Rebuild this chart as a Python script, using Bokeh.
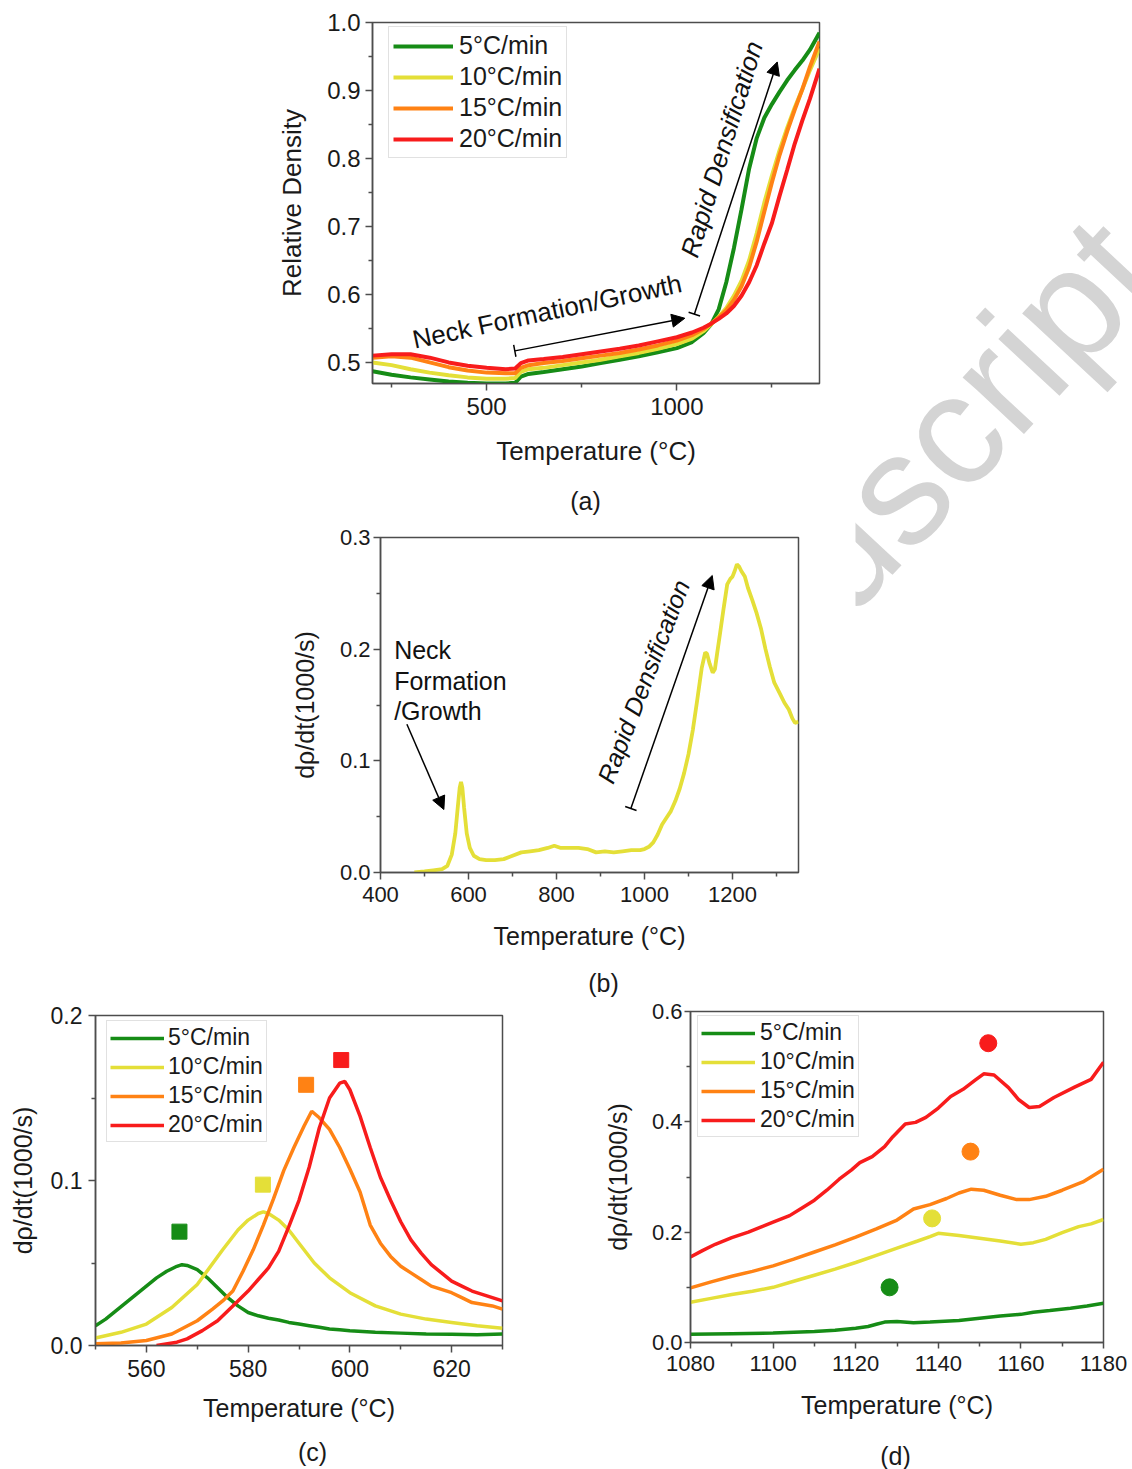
from bokeh.plotting import figure
from bokeh.models import (Range1d, FixedTicker, NumeralTickFormatter, Legend, LegendItem,
                          Arrow, NormalHead, TeeHead, Spacer)
from bokeh.layouts import row, column
from bokeh.core.properties import value
from bokeh.embed import file_html
from bokeh.resources import INLINE

FONT = "Liberation Sans"
AX = "#4d4d4d"

rates = ["5°C/min", "10°C/min", "15°C/min", "20°C/min"]
colors = ["#168c16", "#e4df38", "#ff8214", "#f81c1c"]

# ---------------- (a) relative density ----------------
temp_a = [200, 250, 300, 350, 400, 450, 500, 550, 575, 590, 610, 650, 700, 750, 800, 850,
          900, 950, 1000, 1040, 1070, 1090, 1110, 1130, 1150, 1170, 1190, 1210, 1230, 1250,
          1270, 1290, 1310, 1330, 1350, 1375]
dens_5 = [0.487, 0.482, 0.478, 0.475, 0.472, 0.470, 0.469, 0.469, 0.470, 0.479, 0.483, 0.486,
          0.490, 0.494, 0.499, 0.504, 0.509, 0.515, 0.521, 0.530, 0.543, 0.556, 0.578, 0.618,
          0.668, 0.725, 0.785, 0.830, 0.860, 0.880, 0.898, 0.915, 0.930, 0.944, 0.960, 0.985]
dens_10 = [0.500, 0.496, 0.490, 0.485, 0.481, 0.478, 0.476, 0.476, 0.477, 0.486, 0.490, 0.492,
           0.496, 0.500, 0.504, 0.509, 0.514, 0.520, 0.527, 0.535, 0.546, 0.556, 0.567, 0.580,
           0.598, 0.620, 0.650, 0.690, 0.735, 0.775, 0.812, 0.845, 0.875, 0.902, 0.930, 0.962]
dens_15 = [0.507, 0.509, 0.507, 0.500, 0.493, 0.488, 0.485, 0.484, 0.484, 0.492, 0.496, 0.499,
           0.502, 0.506, 0.510, 0.514, 0.519, 0.525, 0.532, 0.540, 0.549, 0.557, 0.566, 0.577,
           0.592, 0.612, 0.640, 0.678, 0.722, 0.765, 0.805, 0.840, 0.872, 0.902, 0.935, 0.972]
dens_20 = [0.510, 0.512, 0.512, 0.507, 0.500, 0.495, 0.492, 0.490, 0.491, 0.499, 0.503, 0.505,
           0.508, 0.512, 0.516, 0.520, 0.525, 0.531, 0.537, 0.544, 0.551, 0.557, 0.564, 0.572,
           0.583, 0.598, 0.618, 0.643, 0.675, 0.705, 0.745, 0.783, 0.822, 0.856, 0.888, 0.932]

# ---------------- (b) densification rate, 10 C/min ----------------
temp_b = [477, 500, 520, 540, 552, 562, 570, 576, 580, 583, 586, 590, 596, 603, 612, 625, 640,
          660, 680, 700, 720, 740, 760, 780, 795, 810, 830, 850, 870, 890, 910, 930, 950, 970,
          990, 1000, 1010, 1020, 1030, 1040, 1050, 1060, 1070, 1080, 1090, 1100, 1110, 1120,
          1130, 1138, 1142, 1148, 1155, 1160, 1165, 1172, 1180, 1188, 1195, 1200, 1205, 1210,
          1215, 1220, 1228, 1235, 1245, 1255, 1265, 1275, 1285, 1295, 1308, 1318, 1328, 1336,
          1342, 1350]
rate_b = [0.000, 0.001, 0.002, 0.003, 0.006, 0.016, 0.035, 0.060, 0.076, 0.081, 0.076, 0.058,
          0.035, 0.022, 0.015, 0.012, 0.011, 0.011, 0.012, 0.015, 0.018, 0.019, 0.020, 0.022,
          0.024, 0.022, 0.022, 0.022, 0.021, 0.018, 0.019, 0.018, 0.019, 0.020, 0.020, 0.021,
          0.023, 0.027, 0.034, 0.043, 0.049, 0.055, 0.064, 0.075, 0.089, 0.106, 0.128, 0.155,
          0.183, 0.197, 0.196, 0.187, 0.179, 0.182, 0.196, 0.215, 0.237, 0.258, 0.263, 0.265,
          0.270, 0.276, 0.274, 0.270, 0.265, 0.255, 0.244, 0.232, 0.218, 0.200, 0.184, 0.170,
          0.160, 0.152, 0.146, 0.138, 0.134, 0.135]

# ---------------- (c) first peak ----------------
temp_c5 = [550, 552, 554, 556, 558, 560, 562, 564, 566, 567, 568, 570, 572, 574, 576, 578, 580,
           582, 584, 586, 588, 590, 592, 594, 596, 598, 600, 605, 610, 615, 620, 625, 630]
rate_c5 = [0.012, 0.016, 0.021, 0.026, 0.031, 0.036, 0.041, 0.045, 0.048, 0.049, 0.0485, 0.046,
           0.041, 0.035, 0.029, 0.024, 0.020, 0.018, 0.0165, 0.0155, 0.014, 0.013, 0.012,
           0.011, 0.010, 0.0095, 0.009, 0.008, 0.0075, 0.007, 0.0068, 0.0065, 0.007]
temp_c10 = [550, 555, 560, 565, 570, 575, 578, 580, 582, 583, 584, 586, 588, 590, 593, 596,
            600, 605, 610, 615, 620, 625, 630]
rate_c10 = [0.0045, 0.008, 0.013, 0.023, 0.037, 0.058, 0.070, 0.076, 0.080, 0.081, 0.080, 0.076,
            0.070, 0.062, 0.050, 0.041, 0.032, 0.024, 0.019, 0.016, 0.014, 0.012, 0.0105]
temp_c15 = [550, 555, 560, 565, 570, 573, 575, 577, 579, 581, 583, 585, 587, 589, 591, 592.5,
            594, 596, 598, 600, 602, 604, 606, 608, 610, 612, 614, 616, 618, 620, 622, 624,
            626, 628, 630]
rate_c15 = [0.001, 0.0015, 0.003, 0.007, 0.015, 0.022, 0.027, 0.033, 0.045, 0.058, 0.073,
            0.089, 0.106, 0.120, 0.133, 0.142, 0.138, 0.131, 0.120, 0.107, 0.093, 0.073, 0.062,
            0.054, 0.048, 0.044, 0.040, 0.036, 0.034, 0.032, 0.029, 0.026, 0.025, 0.024, 0.022]
temp_c20 = [562, 566, 568, 571, 574, 577, 580, 582, 584, 586, 588, 590, 592, 594, 596, 598, 599,
            600, 602, 604, 606, 608, 610, 612, 614, 616, 618, 620, 622, 624, 626, 628, 630]
rate_c20 = [0.0, 0.002, 0.004, 0.009, 0.015, 0.024, 0.033, 0.040, 0.047, 0.057, 0.072, 0.088,
            0.108, 0.132, 0.150, 0.159, 0.160, 0.155, 0.139, 0.120, 0.102, 0.088, 0.075, 0.064,
            0.056, 0.049, 0.044, 0.039, 0.036, 0.033, 0.031, 0.029, 0.027]
peak_c_temp = [566.5, 582.9, 591.4, 598.3]
peak_c_rate = [0.069, 0.0975, 0.158, 0.173]

# ---------------- (d) second peak ----------------
temp_d5 = [1080, 1090, 1100, 1110, 1115, 1120, 1123, 1125, 1127, 1130, 1134, 1138, 1145, 1150,
           1155, 1160, 1163, 1167, 1172, 1176, 1180]
rate_d5 = [0.015, 0.016, 0.017, 0.020, 0.022, 0.026, 0.029, 0.033, 0.037, 0.038, 0.036, 0.037,
           0.040, 0.044, 0.048, 0.051, 0.055, 0.058, 0.062, 0.066, 0.071]
temp_d10 = [1080, 1085, 1090, 1095, 1100, 1105, 1110, 1115, 1120, 1125, 1130, 1135, 1138, 1140,
            1145, 1150, 1155, 1160, 1163, 1166, 1170, 1174, 1177, 1180]
rate_d10 = [0.073, 0.080, 0.087, 0.093, 0.100, 0.111, 0.122, 0.133, 0.145, 0.158, 0.171, 0.184,
            0.192, 0.198, 0.194, 0.189, 0.184, 0.178, 0.181, 0.187, 0.199, 0.210, 0.215, 0.223]
temp_d15 = [1080, 1085, 1090, 1095, 1100, 1105, 1110, 1115, 1120, 1125, 1130, 1134, 1138, 1142,
            1145, 1148, 1151, 1155, 1159, 1162, 1166, 1170, 1175, 1180]
rate_d15 = [0.099, 0.110, 0.120, 0.129, 0.139, 0.151, 0.164, 0.177, 0.191, 0.206, 0.222, 0.242,
            0.250, 0.261, 0.271, 0.278, 0.276, 0.267, 0.259, 0.259, 0.265, 0.276, 0.291, 0.314]
temp_d20 = [1080, 1083, 1086, 1090, 1094, 1097, 1100, 1104, 1107, 1110, 1113, 1116, 1119, 1121,
            1124, 1127, 1129, 1132, 1134.5, 1137, 1140, 1143, 1146, 1149, 1151, 1153.5, 1157,
            1159.5, 1162, 1164.5, 1168, 1173, 1177, 1180]
rate_d20 = [0.155, 0.167, 0.178, 0.190, 0.200, 0.209, 0.218, 0.230, 0.244, 0.258, 0.276, 0.296,
            0.313, 0.326, 0.337, 0.355, 0.373, 0.396, 0.399, 0.408, 0.425, 0.446, 0.459, 0.476,
            0.487, 0.485, 0.462, 0.440, 0.426, 0.428, 0.444, 0.463, 0.477, 0.508]
peak_d_temp = [1128.2, 1138.5, 1147.8, 1152.1]
peak_d_rate = [0.100, 0.225, 0.346, 0.5425]

captions = ["(a)", "(b)", "(c)", "(d)"]


def make_fig(width, height, xr, yr, borders):
    l, r, t, b = borders
    p = figure(width=width, height=height, x_range=Range1d(*xr), y_range=Range1d(*yr),
               toolbar_location=None, output_backend="svg",
               min_border_left=l, min_border_right=r, min_border_top=t, min_border_bottom=b)
    p.background_fill_color = "white"
    p.border_fill_color = "white"
    p.outline_line_color = AX
    p.outline_line_width = 1.5
    p.outline_line_alpha = 1
    p.xgrid.grid_line_color = None
    p.ygrid.grid_line_color = None
    return p


def blank_fig(width, height, x0, y_top):
    # plain canvas whose data units are page pixels (y grows downward)
    p = figure(width=width, height=height, x_range=Range1d(x0, x0 + width),
               y_range=Range1d(y_top + height, y_top), toolbar_location=None,
               output_backend="svg", x_axis_type=None, y_axis_type=None,
               min_border=0, min_border_left=0, min_border_right=0, min_border_top=0,
               min_border_bottom=0)
    p.outline_line_color = None
    p.xgrid.grid_line_color = None
    p.ygrid.grid_line_color = None
    p.background_fill_color = "white"
    p.border_fill_color = "white"
    return p


def style_axes(p, xt, yt, xlabel, ylabel, tick_px, label_px, xts, yts, xls, yls, tick_out=7):
    p.xaxis.ticker = FixedTicker(ticks=xt[0], minor_ticks=xt[1])
    p.yaxis.ticker = FixedTicker(ticks=yt[0], minor_ticks=yt[1])
    p.yaxis.formatter = NumeralTickFormatter(format="0.0")
    p.xaxis.axis_label = xlabel
    p.yaxis.axis_label = ylabel
    for ax, ts, ls in ((p.xaxis[0], xts, xls), (p.yaxis[0], yts, yls)):
        ax.axis_line_color = AX
        ax.axis_line_width = 1.5
        ax.major_tick_line_color = AX
        ax.major_tick_line_width = 1.5
        ax.minor_tick_line_color = AX
        ax.minor_tick_line_width = 1.5
        ax.major_tick_in = 0
        ax.major_tick_out = tick_out
        ax.minor_tick_in = 0
        ax.minor_tick_out = 4
        ax.major_label_text_font = FONT
        ax.major_label_text_font_size = f"{tick_px}px"
        ax.major_label_text_color = "#1a1a1a"
        ax.major_label_standoff = ts
        ax.axis_label_text_font = FONT
        ax.axis_label_text_font_size = f"{label_px}px"
        ax.axis_label_text_font_style = "normal"
        ax.axis_label_text_color = "#1a1a1a"
        ax.axis_label_standoff = ls


def caption(p, xs, ys, texts):
    p.text(x=xs, y=ys, text=texts, text_font=value(FONT), text_font_size=value("25px"),
           text_color="#1a1a1a", text_align="center", text_baseline="middle")


def add_legend(p, renderers, font_px, glyph_w, standoff, vx, vy, padding, spacing):
    items = [LegendItem(label=lab, renderers=[r]) for lab, r in zip(rates, renderers)]
    leg = Legend(items=items, location=(vx, vy), label_text_font=FONT,
                 label_text_font_size=f"{font_px}px", label_text_color="#1a1a1a",
                 glyph_width=glyph_w, glyph_height=20, label_height=20, label_standoff=standoff,
                 spacing=spacing, padding=padding, margin=0, border_line_color="#c4c4c4",
                 border_line_width=1.5, background_fill_color="white", background_fill_alpha=1)
    p.add_layout(leg)


def text(p, x, y, s, size, angle=0, italic=False):
    p.text(x=[x], y=[y], text=[s], angle=angle, angle_units="deg",
           text_font=value(FONT), text_font_size=value(f"{size}px"),
           text_font_style="italic" if italic else "normal", text_color="#111111",
           text_align="left", text_baseline="alphabetic")


def arrow(p, x0, y0, x1, y1, tee=True):
    start = TeeHead(size=12, line_width=1.5, line_color="black") if tee else None
    p.add_layout(Arrow(start=start, end=NormalHead(size=13, fill_color="black",
                                                     line_color="black", line_width=1),
                       x_start=x0, y_start=y0, x_end=x1, y_end=y1,
                       line_width=1.5, line_color="black"))


# ---- panel (a): frame 372..819 x 22..383
pa = make_fig(567, 480, (200, 1375), (0.469, 1.0), (110, 10, 22, 97))
ra = [pa.line(temp_a, d, line_color=c, line_width=4)
      for d, c in zip([dens_5, dens_10, dens_15, dens_20], colors)]
style_axes(pa, ([500, 1000], [250, 750, 1250]),
           ([0.5, 0.6, 0.7, 0.8, 0.9, 1.0], [0.55, 0.65, 0.75, 0.85, 0.95]),
           "Temperature (°C)", "Relative Density", 24, 26, 7, 5, 18, 17)
add_legend(pa, ra, 25, 60, 6, 16, 361 - 6 - 130, 4, 2)
arrow(pa, 574, 0.517, 1021, 0.565)
arrow(pa, 1046, 0.571, 1264, 0.942)
text(pa, 306, 0.533, "Neck Formation/Growth", 26, angle=12)
text(pa, 1032, 0.656, "Rapid Densification", 26, angle=73, italic=True)
cap_a = blank_fig(855, 40, 0, 480)
caption(cap_a, [585], [500], [captions[0]])

# ---- panel (b): frame 380..798 x 537..872
pb = make_fig(538, 442, (400, 1350), (0.0, 0.3), (110, 10, 17, 90))
pb.line(temp_b, rate_b, line_color=colors[1], line_width=3.8)
style_axes(pb, ([400, 600, 800, 1000, 1200], [500, 700, 900, 1100, 1300]),
           ([0.0, 0.1, 0.2, 0.3], [0.05, 0.15, 0.25]),
           "Temperature (°C)", "dρ/dt(1000/s)", 22, 25, 7, 3, 17, 18)
text(pb, 431, 0.1994, "Neck", 25)
text(pb, 431, 0.1719, "Formation", 25)
text(pb, 431, 0.1450, "/Growth", 25)
arrow(pb, 460, 0.1328, 544, 0.0564, tee=False)
arrow(pb, 969, 0.0573, 1154, 0.266)
text(pb, 910, 0.081, "Rapid Densification", 25, angle=69, italic=True)
cap_b = blank_fig(855, 38, 0, 962)
caption(cap_b, [603], [982], [captions[1]])

# ---- watermark column (x 855..1132, y 0..1000)
wm = blank_fig(277, 1000, 855, 0)
wm.text(x=[862], y=[526], text=["Manuscript"], angle=47, angle_units="deg",
        text_font=value(FONT), text_font_size=value("158px"), text_color="#d4d4d4",
        text_align="center", text_baseline="middle")

# ---- panel (c): frame 95..502 x 1015..1345
pc = make_fig(590, 431, (550, 630), (0.0, 0.2), (95, 88, 11, 90))
rc = [pc.line(t, r, line_color=c, line_width=3.5)
      for t, r, c in zip([temp_c5, temp_c10, temp_c15, temp_c20],
                         [rate_c5, rate_c10, rate_c15, rate_c20], colors)]
pc.scatter(peak_c_temp, peak_c_rate, marker="square", size=15, fill_color=colors,
           line_color=colors)
style_axes(pc, ([560, 580, 600, 620], [550, 570, 590, 610, 630]),
           ([0.0, 0.1, 0.2], [0.05, 0.15]),
           "Temperature (°C)", "dρ/dt(1000/s)", 23, 25, 7, 6, 14, 11)
add_legend(pc, rc, 23, 54, 4, 11, 330 - 7 - 120, 3, 2)

# ---- panel (d): frame 690..1103 x 1011..1342
pd = make_fig(542, 435, (1080, 1180), (0.0, 0.6), (100, 29, 11, 93))
rd = [pd.line(t, r, line_color=c, line_width=3.5)
      for t, r, c in zip([temp_d5, temp_d10, temp_d15, temp_d20],
                         [rate_d5, rate_d10, rate_d15, rate_d20], colors)]
pd.scatter(peak_d_temp, peak_d_rate, marker="circle", size=17, fill_color=colors,
           line_color=colors)
style_axes(pd, ([1080, 1100, 1120, 1140, 1160, 1180], [1090, 1110, 1130, 1150, 1170]),
           ([0.0, 0.2, 0.4, 0.6], [0.1, 0.3, 0.5]),
           "Temperature (°C)", "dρ/dt(1000/s)", 22, 25, 7, 2, 17, 17, tick_out=6)
add_legend(pd, rd, 23, 54, 5, 7, 331 - 6 - 120, 3, 2)

cap_cd = blank_fig(1132, 34, 0, 1435)
caption(cap_cd, [312, 895], [1451, 1455], captions[2:])

top_left = column(row(Spacer(width=262, height=480), pa, Spacer(width=26, height=480)),
                  row(cap_a),
                  row(Spacer(width=270, height=442), pb, Spacer(width=47, height=442)),
                  row(cap_b))
bottom = column(row(column(Spacer(width=590, height=4), pc), pd), row(cap_cd))
layout = column(row(top_left, wm), bottom)
open("out.html", "w").write(file_html(layout, INLINE))
